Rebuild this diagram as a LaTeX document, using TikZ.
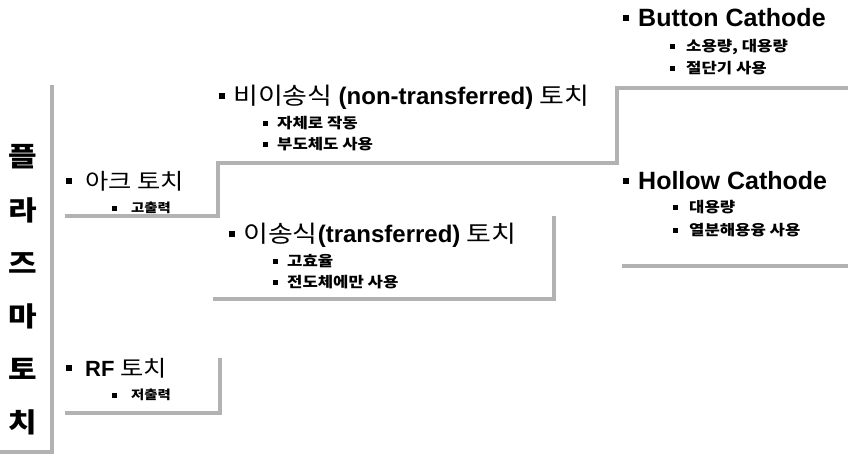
\documentclass[tikz,border=0pt]{standalone}
\usepackage{fontspec}
\setmainfont[FakeStretch=1.15]{Noto Sans CJK KR}
\newfontfamily\lat{Liberation Sans}
% bullet square, then a gap before the text
\newcommand{\bul}[2]{\raisebox{\dimexpr0.36em-#1/2\relax}{\rule{#1}{#1}}\hspace{#2}}
\begin{document}
\begin{tikzpicture}[x=1pt,y=-1pt,
  bar/.style={draw=gray!60, line width=4pt, line join=miter},
  head/.style={anchor=west, inner sep=0pt, font=\fontsize{22}{22}\selectfont},
  widehead/.style={anchor=west, inner sep=0pt, font=\fontsize{23.5}{23.5}\selectfont},
  lathead/.style={anchor=west, inner sep=0pt, font=\fontsize{25}{25}\selectfont\lat\bfseries},
  sub/.style={anchor=west, inner sep=0pt, font=\fontsize{14.5}{14.5}\selectfont\bfseries},
  smallsub/.style={sub, font=\fontsize{12.5}{12.5}\selectfont\bfseries},
  big/.style={inner sep=0pt, font=\fontsize{27}{27}\selectfont\bfseries}]
\useasboundingbox (0,0) rectangle (848,459);

% vertical title
\node[big] (t1) at (23,157) {플};
\node[big] (t2) at (23,210) {라};
\node[big] (t3) at (23,263) {즈};
\node[big] (t4) at (23,316) {마};
\node[big] (t5) at (23,369) {토};
\node[big] (t6) at (23,422) {치};

% bracket lines
\coordinate (l0) at (52,85);
\coordinate (l1) at (52,452);
\coordinate (l2) at (0,452);
\draw[bar] (l0) -- (l1) -- (l2);

\coordinate (a0) at (65,216);
\coordinate (a1) at (218,216);
\coordinate (a2) at (218,163);
\coordinate (a3) at (617,163);
\coordinate (a4) at (617,88);
\coordinate (a5) at (848,88);
\draw[bar] (a0) -- (a1) -- (a2) -- (a3) -- (a4) -- (a5);

\coordinate (t0) at (213,299);
\coordinate (tt1) at (554,299);
\coordinate (tt2) at (554,216);
\draw[bar] (t0) -- (tt1) -- (tt2);

\coordinate (h0) at (622,266);
\coordinate (h1) at (848,266);
\draw[bar] (h0) -- (h1);

\coordinate (r0) at (65,413);
\coordinate (r1) at (220,413);
\coordinate (r2) at (220,358);
\draw[bar] (r0) -- (r1) -- (r2);

% texts
\node[head] (arc) at (66,181) {\bul{6pt}{13pt}아크 토치};
\node[smallsub] (arc1) at (112,208) {\bul{5pt}{14pt}고출력};

\node[widehead] (non) at (219,97) {\bul{6pt}{8pt}비이송식 {\lat\bfseries\fontsize{24}{24}\selectfont(non-transferred)} 토치};
\node[sub] (non1) at (263,123) {\bul{5pt}{9pt}자체로 작동};
\node[sub] (non2) at (263,144) {\bul{5pt}{9pt}부도체도 사용};

\node[widehead] (tr) at (229,235) {\bul{6pt}{8pt}이송식{\lat\bfseries\fontsize{24}{24}\selectfont(transferred)} 토치};
\node[sub] (tr1) at (273,261) {\bul{5pt}{9pt}고효율};
\node[sub] (tr2) at (273,282) {\bul{5pt}{9pt}전도체에만 사용};

\node[lathead] (bc) at (623,18) {\bul{6pt}{9pt}Button Cathode};
\node[sub] (bc1) at (670,47) {\bul{5pt}{11pt}소용량, 대용량};
\node[sub] (bc2) at (670,68) {\bul{5pt}{11pt}절단기 사용};

\node[lathead] (hc) at (623,181) {\bul{6pt}{9pt}Hollow Cathode};
\node[sub] (hc1) at (673,207) {\bul{5pt}{11pt}대용량};
\node[sub] (hc2) at (673,230) {\bul{5pt}{11pt}열분해용융 사용};

\node[head] (rf) at (66,368) {\bul{6pt}{13pt}{\lat\bfseries RF} 토치};
\node[smallsub] (rf1) at (112,395) {\bul{5pt}{14pt}저출력};
\end{tikzpicture}
\end{document}
